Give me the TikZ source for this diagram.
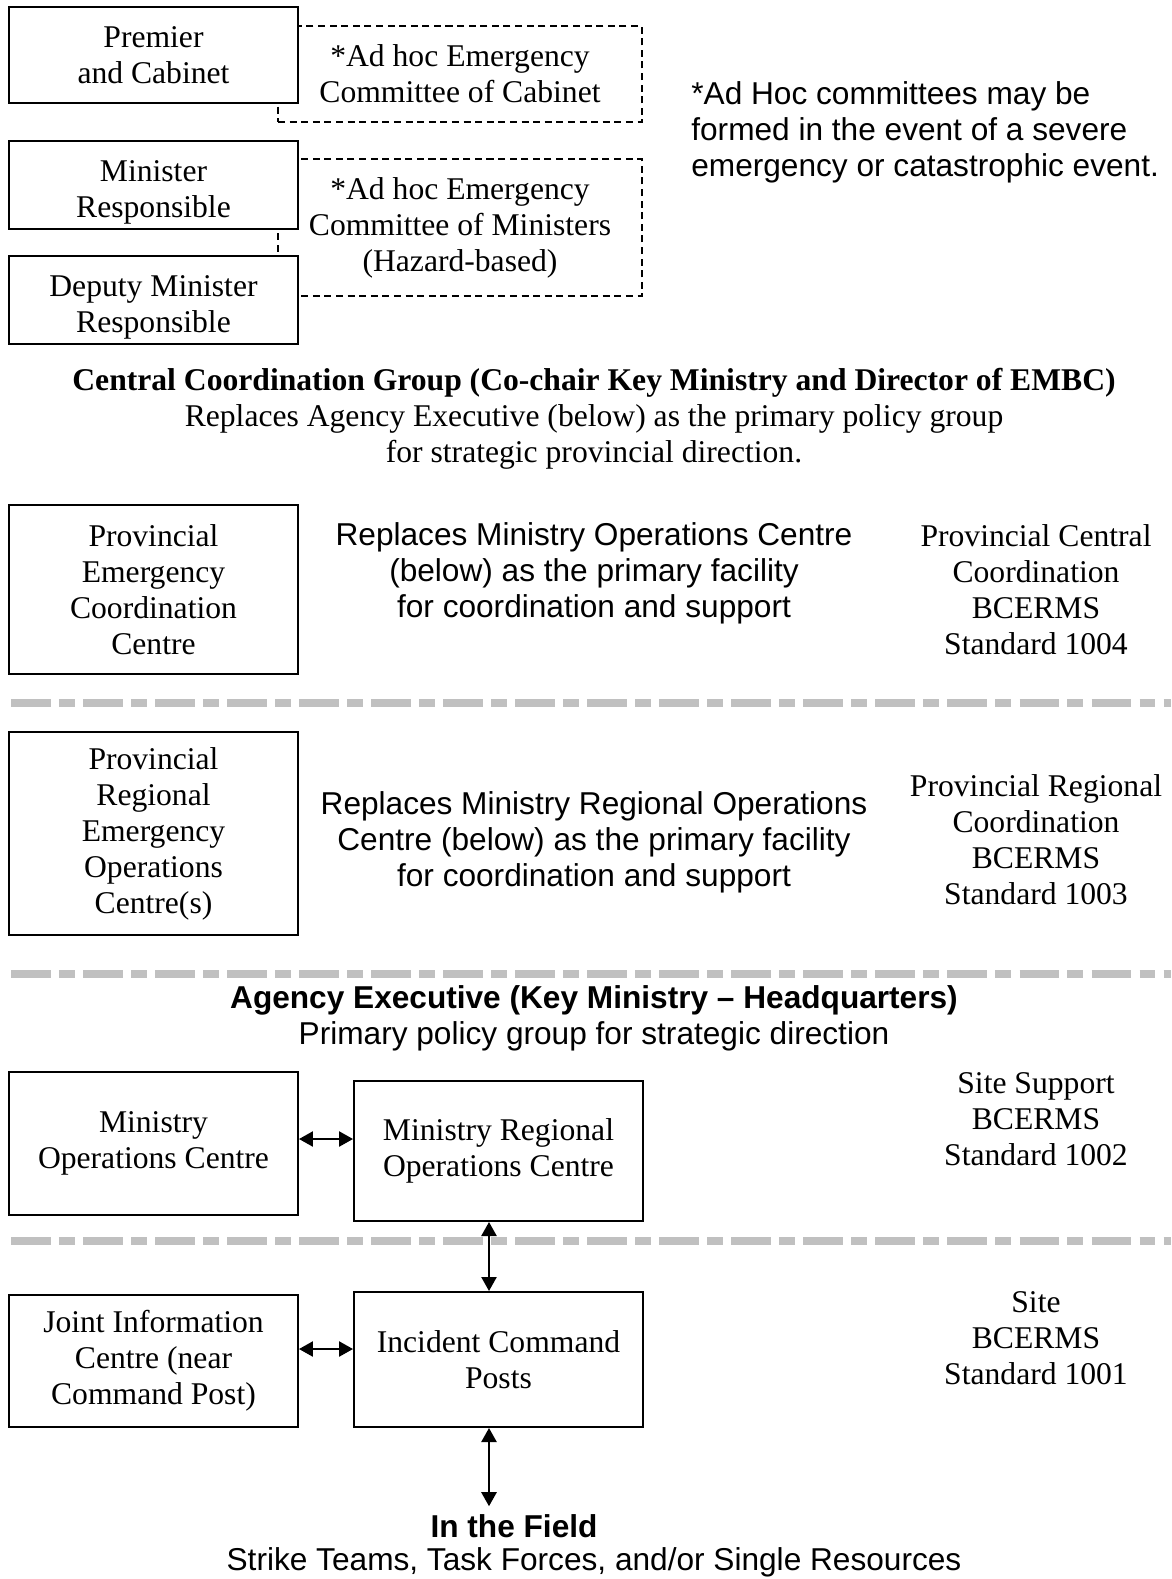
\documentclass[tikz,border=0pt]{standalone}
\usepackage{fontspec}
\setmainfont{Liberation Serif}
\setsansfont{Liberation Sans}
\usetikzlibrary{arrows.meta,positioning,calc,backgrounds}
\definecolor{ink}{HTML}{000000}
\definecolor{sepgray}{HTML}{C0C0C0}
\newcommand{\diafont}{\fontsize{18}{20.5}\selectfont}

\begin{document}
\begin{tikzpicture}[x=0.02cm, y=-0.02cm,
  box/.style={draw=ink, line width=1.1pt, fill=white, align=center, font=\diafont, minimum width=5.78cm, inner sep=2pt},
  adhoc/.style={draw=ink, line width=0.8pt, dash pattern=on 4pt off 2.6pt, align=center, font=\diafont, minimum width=7.28cm, inner sep=2pt},
  lab/.style={align=center, font=\diafont, text=ink, inner sep=1pt},
  labsf/.style={align=center, font=\diafont\sffamily, text=ink, inner sep=1pt},
  sep/.style={draw=sepgray, line width=4.2pt, dash pattern=on 22.6pt off 4.7pt on 9pt off 4.7pt},
  arr/.style={{Triangle[length=8pt,width=8.5pt]}-{Triangle[length=8pt,width=8.5pt]}, draw=ink, line width=1.5pt},
]
\useasboundingbox (0,0) rectangle (1171,1579);
% top: cabinet and ministers
\node[box, minimum height=1.92cm] (premier) at (153.5,55) {Premier\\and Cabinet};
\node[box, minimum height=1.76cm, text height=41pt] (minister) at (153.5,185) {Minister\\Responsible};
\node[box, minimum height=1.76cm, text height=41pt] (deputy) at (153.5,300) {Deputy Minister\\Responsible};
\begin{scope}[on background layer]
\node[adhoc, minimum height=1.92cm] (cabcom) at (460,74) {*Ad hoc Emergency\\Committee of Cabinet};
\node[adhoc, minimum height=2.74cm] (mincom) at (460,227.5) {*Ad hoc Emergency\\Committee of Ministers\\(Hazard-based)};
\end{scope}
\node[labsf, align=left, anchor=west, inner sep=0pt] (note) at (691,132) {*Ad Hoc committees may be\\formed in the event of a severe\\emergency or catastrophic event.};

\node[lab] (ccg) at (594,419) {\textbf{Central Coordination Group (Co-chair Key Ministry and Director of EMBC)}\\Replaces Agency Executive (below) as the primary policy group\\for strategic provincial direction.};

% provincial central
\node[box, minimum height=3.38cm] (pecc) at (153.5,589.5) {Provincial\\Emergency\\Coordination\\Centre};
\node[labsf] (peccnote) at (594,573) {Replaces Ministry Operations Centre\\(below) as the primary facility\\for coordination and support};
\node[lab] (std1004) at (1036,590) {Provincial Central\\Coordination\\BCERMS\\Standard 1004};
\draw[sep] (11,703) -- (1171,703);

% provincial regional
\node[box, minimum height=4.06cm] (preoc) at (153.5,833.5) {Provincial\\Regional\\Emergency\\Operations\\Centre(s)};
\node[labsf] (preocnote) at (594,842) {Replaces Ministry Regional Operations\\Centre (below) as the primary facility\\for coordination and support};
\node[lab] (std1003) at (1036,840) {Provincial Regional\\Coordination\\BCERMS\\Standard 1003};
\draw[sep] (11,974) -- (1171,974);

% site support
\node[labsf] (agency) at (594,1018) {\textbf{Agency Executive (Key Ministry -- Headquarters)}\\Primary policy group for strategic direction};
\node[box, minimum height=2.86cm] (moc) at (153.5,1143.5) {Ministry\\Operations Centre};
\node[box, minimum height=2.8cm] (mroc) at (498.5,1151) {Ministry Regional\\Operations Centre};
\node[lab] (std1002) at (1036,1119) {Site Support\\BCERMS\\Standard 1002};
\draw[sep] (11,1241) -- (1171,1241);

% site
\node[box, minimum height=2.64cm] (jic) at (153.5,1361) {Joint Information\\Centre (near\\Command Post)};
\node[box, minimum height=2.7cm] (icp) at (498.5,1359.5) {Incident Command\\Posts};
\node[lab] (std1001) at (1036,1338) {Site\\BCERMS\\Standard 1001};
\node[labsf, font=\diafont\sffamily\bfseries] (field) at (514,1526) {In the Field};
\node[labsf] (strike) at (594,1562) {Strike Teams, Task Forces, and/or Single Resources};

\draw[arr] ([yshift=0.09cm]moc.east) -- ([yshift=0.09cm]moc.east -| mroc.west);
\draw[arr] ([yshift=0.24cm]jic.east) -- ([yshift=0.24cm]jic.east -| icp.west);
\draw[arr] ([xshift=-0.19cm]mroc.south) -- ([xshift=-0.19cm]icp.north);
\draw[arr] ([xshift=-0.19cm]icp.south) -- ([xshift=-0.19cm, yshift=0.12cm]icp.south |- field.north);
\end{tikzpicture}
\end{document}
